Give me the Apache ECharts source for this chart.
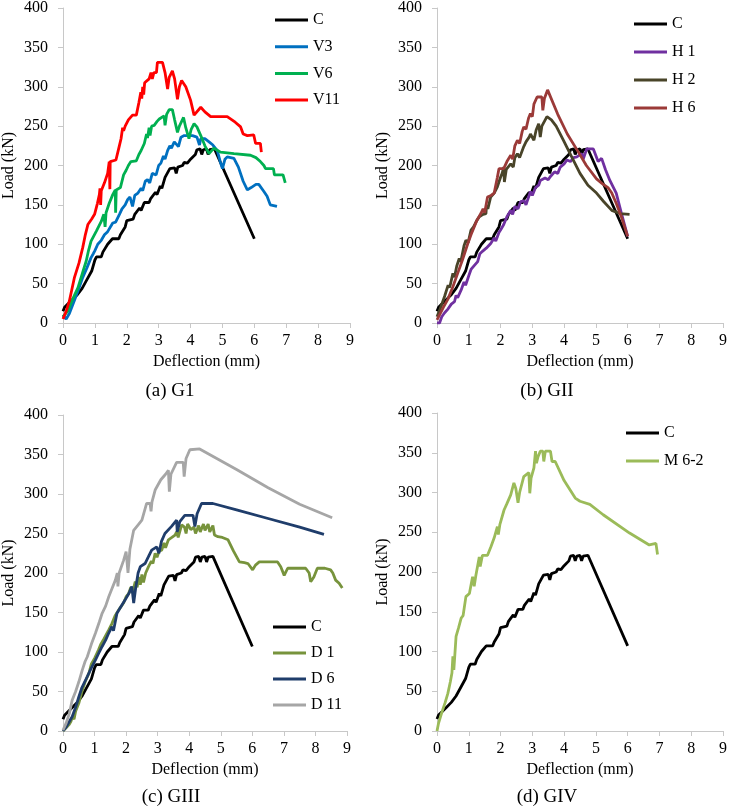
<!DOCTYPE html>
<html>
<head>
<meta charset="utf-8">
<script src="https://cdn.jsdelivr.net/npm/echarts@6/dist/echarts.min.js"></script>
<style>
  html, body { margin: 0; padding: 0; background: #fff; }
  #chart { width: 730px; height: 810px; }
</style>
</head>
<body>
<div id="chart"></div>
<script>
// load-deflection curves, [deflection mm, load kN]
const cData = [[0,15],[0.05,20],[0.1,18],[0.15,24],[0.2,22],[0.3,30],[0.35,28],[0.45,36],[0.5,34],[0.6,44],[0.65,42],[0.75,55],[0.8,53],[0.9,66],[0.95,64],[1.0,80],[1.05,84],[1.2,84],[1.25,90],[1.3,88],[1.4,100],[1.45,98],[1.55,107],[1.75,107],[1.8,112],[1.85,110],[1.95,122],[2.0,130],[2.2,132],[2.25,138],[2.3,136],[2.4,146],[2.45,143],[2.55,153],[2.7,153],[2.75,158],[2.8,156],[2.9,166],[2.95,163],[3.05,174],[3.1,171],[3.2,185],[3.25,183],[3.35,196],[3.5,197],[3.55,190],[3.6,198],[3.75,200],[3.8,204],[3.9,203],[4.0,208],[4.05,206],[4.15,214],[4.2,220],[4.3,221],[4.35,214],[4.4,220],[4.5,221],[4.55,214],[4.6,220],[4.75,221],[6.0,107]];

const v3Data = [[0,10],[0.1,5],[0.2,12],[0.36,29],[0.5,44],[0.62,58],[0.75,70],[0.88,83],[0.95,88],[1.0,92],[1.09,100],[1.15,98],[1.2,105],[1.3,112],[1.4,116],[1.45,114],[1.56,127],[1.65,128],[1.77,138],[1.85,145],[1.95,150],[2.03,157],[2.1,160],[2.18,148],[2.25,162],[2.35,165],[2.45,171],[2.5,168],[2.58,180],[2.65,182],[2.72,178],[2.8,190],[2.86,192],[2.92,188],[3.0,200],[3.07,203],[3.15,212],[3.2,208],[3.28,219],[3.35,225],[3.4,222],[3.49,230],[3.55,232],[3.62,224],[3.7,236],[3.8,238],[4.06,238],[4.2,236],[4.28,226],[4.32,234],[4.45,234],[4.58,230],[4.7,226],[4.84,219],[4.93,205],[5.0,196],[5.08,208],[5.15,211],[5.36,209],[5.5,198],[5.65,180],[5.78,169],[5.9,172],[6.05,176],[6.14,176],[6.3,167],[6.4,161],[6.5,150],[6.55,148],[6.71,148]];

const v6Data = [[0,8],[0.15,15],[0.3,30],[0.47,45],[0.6,62],[0.73,79],[0.8,92],[0.88,104],[1.05,117],[1.2,129],[1.28,138],[1.3,140],[1.32,122],[1.35,140],[1.45,152],[1.56,163],[1.64,169],[1.65,140],[1.67,169],[1.8,172],[1.9,188],[1.98,194],[2.05,200],[2.13,205],[2.3,206],[2.38,214],[2.45,219],[2.55,228],[2.62,240],[2.65,235],[2.7,248],[2.73,238],[2.78,250],[2.86,251],[2.95,256],[3.02,259],[3.17,263],[3.2,251],[3.25,265],[3.33,271],[3.43,271],[3.5,258],[3.59,242],[3.65,250],[3.78,261],[3.85,248],[3.95,234],[4.02,246],[4.11,253],[4.2,249],[4.32,238],[4.45,225],[4.58,215],[4.73,222],[4.94,217],[5.36,215],[5.88,213],[6.05,210],[6.19,205],[6.3,200],[6.35,196],[6.6,196],[6.63,188],[6.9,188],[6.97,178]];

const v11Data = [[0,5],[0.1,15],[0.2,28],[0.36,58],[0.5,76],[0.62,96],[0.7,112],[0.78,125],[0.9,132],[0.99,138],[1.08,152],[1.14,163],[1.16,171],[1.18,150],[1.2,168],[1.3,178],[1.4,190],[1.45,205],[1.47,170],[1.48,205],[1.66,207],[1.75,222],[1.82,234],[1.87,248],[1.9,244],[1.95,250],[1.98,248],[2.05,258],[2.18,264],[2.3,264],[2.38,280],[2.44,293],[2.47,285],[2.5,300],[2.53,290],[2.56,305],[2.6,303],[2.7,310],[2.76,318],[2.8,310],[2.85,318],[2.93,318],[2.96,331],[3.12,331],[3.2,318],[3.28,297],[3.33,312],[3.43,320],[3.5,310],[3.59,284],[3.65,300],[3.72,308],[3.85,300],[4.0,283],[4.11,264],[4.15,262],[4.32,274],[4.45,268],[4.63,262],[5.15,262],[5.4,255],[5.57,249],[5.65,240],[5.78,238],[5.98,239],[6.04,228],[6.19,228],[6.22,217]];

const h1Data = [[0,0],[0.08,0],[0.15,8],[0.24,13],[0.35,18],[0.45,24],[0.55,27],[0.6,35],[0.65,32],[0.76,42],[0.85,52],[0.9,48],[1.0,60],[1.07,68],[1.15,72],[1.2,70],[1.28,78],[1.35,88],[1.43,91],[1.55,95],[1.69,101],[1.8,108],[1.85,104],[1.95,115],[2.0,118],[2.1,125],[2.2,135],[2.32,143],[2.38,138],[2.45,148],[2.55,145],[2.63,154],[2.75,155],[2.8,150],[2.94,167],[3.0,162],[3.1,172],[3.2,175],[3.25,181],[3.4,184],[3.5,182],[3.57,186],[3.7,192],[3.8,190],[3.88,198],[4.0,202],[4.09,207],[4.2,205],[4.3,210],[4.4,211],[4.55,215],[4.6,208],[4.71,221],[4.92,221],[5.07,205],[5.18,209],[5.3,195],[5.44,181],[5.64,165],[5.8,140],[6.0,110]];

const h2Data = [[0,8],[0.1,18],[0.24,34],[0.35,48],[0.4,45],[0.5,63],[0.55,58],[0.62,72],[0.7,82],[0.75,78],[0.85,98],[0.91,105],[0.98,102],[1.07,118],[1.15,122],[1.25,130],[1.33,135],[1.45,138],[1.54,139],[1.56,150],[1.6,145],[1.69,160],[1.8,165],[1.9,173],[2.0,185],[2.05,190],[2.1,198],[2.12,179],[2.18,195],[2.32,202],[2.4,198],[2.45,210],[2.53,215],[2.6,210],[2.73,224],[2.8,230],[2.9,236],[2.94,240],[3.05,232],[3.12,245],[3.2,253],[3.25,236],[3.3,250],[3.46,262],[3.6,258],[3.75,250],[3.98,232],[4.25,210],[4.5,190],[4.75,175],[5.02,165],[5.25,154],[5.5,143],[5.75,139],[6.06,138]];

const h6Data = [[0,4],[0.1,12],[0.2,20],[0.34,30],[0.5,46],[0.65,63],[0.8,80],[0.97,101],[1.07,112],[1.17,122],[1.25,130],[1.38,139],[1.45,145],[1.5,140],[1.59,160],[1.7,162],[1.8,165],[1.9,185],[1.95,196],[2.1,196],[2.2,205],[2.32,213],[2.38,208],[2.45,225],[2.53,232],[2.6,228],[2.68,243],[2.73,249],[2.8,246],[2.88,260],[2.94,266],[3.0,262],[3.05,278],[3.15,287],[3.3,287],[3.33,270],[3.38,285],[3.48,296],[3.8,265],[4.1,240],[4.45,217],[4.7,200],[5.02,183],[5.2,177],[5.38,172],[5.5,165],[5.64,152],[5.8,135],[6.0,110]];

const d1Data = [[0,0],[0.1,4],[0.19,8],[0.25,12],[0.3,18],[0.35,15],[0.4,25],[0.5,35],[0.6,50],[0.7,62],[0.82,73],[0.9,85],[1.0,92],[1.13,103],[1.2,110],[1.3,117],[1.45,128],[1.55,136],[1.65,146],[1.76,153],[1.85,158],[1.92,162],[2.0,170],[2.08,174],[2.15,182],[2.2,175],[2.29,189],[2.35,182],[2.4,195],[2.45,185],[2.5,198],[2.55,188],[2.62,200],[2.71,208],[2.8,215],[2.85,212],[2.92,225],[2.98,220],[3.05,228],[3.13,229],[3.2,238],[3.25,232],[3.34,242],[3.45,245],[3.55,248],[3.6,252],[3.65,245],[3.76,261],[3.85,258],[3.9,250],[3.95,262],[4.05,255],[4.15,258],[4.2,250],[4.3,260],[4.35,252],[4.45,262],[4.5,254],[4.6,262],[4.65,252],[4.75,260],[4.8,248],[4.91,246],[5.05,245],[5.23,242],[5.4,228],[5.59,214],[5.75,213],[5.86,212],[6.01,204],[6.1,210],[6.22,214],[6.8,214],[6.9,208],[7.01,197],[7.12,206],[7.69,206],[7.8,200],[7.85,189],[7.95,195],[8.06,206],[8.3,206],[8.48,204],[8.55,200],[8.64,191],[8.75,187],[8.85,181]];

const d6Data = [[0,0],[0.1,5],[0.2,12],[0.29,18],[0.4,30],[0.5,43],[0.6,55],[0.77,69],[0.9,80],[1.03,90],[1.15,100],[1.24,107],[1.35,115],[1.45,124],[1.55,132],[1.6,127],[1.71,149],[1.8,155],[1.97,166],[2.1,175],[2.18,183],[2.24,162],[2.3,180],[2.38,200],[2.45,208],[2.6,212],[2.7,220],[2.81,229],[2.97,233],[3.04,225],[3.12,240],[3.23,250],[3.44,259],[3.6,267],[3.62,252],[3.7,265],[3.86,273],[4.12,273],[4.18,259],[4.25,275],[4.39,288],[4.75,288],[5.5,280],[6.5,269],[7.5,258],[8.27,249]];

const d11Data = [[0,1],[0.1,10],[0.2,22],[0.29,39],[0.4,50],[0.5,62],[0.61,77],[0.7,88],[0.77,94],[0.9,110],[1.03,124],[1.15,138],[1.24,149],[1.35,158],[1.45,170],[1.55,180],[1.66,191],[1.72,200],[1.74,183],[1.78,200],[1.92,216],[2.0,227],[2.06,200],[2.12,230],[2.24,254],[2.4,262],[2.5,267],[2.65,288],[2.76,288],[2.79,278],[2.82,290],[2.92,305],[3.1,318],[3.25,325],[3.34,330],[3.37,303],[3.42,325],[3.6,340],[3.81,340],[3.84,322],[3.9,345],[4.02,356],[4.33,357],[5.5,331],[6.5,308],[7.5,287],[8.53,270]];

const m62Data = [[0,0],[0.05,10],[0.14,22],[0.25,35],[0.34,47],[0.42,62],[0.47,73],[0.5,94],[0.53,77],[0.6,119],[0.68,130],[0.76,142],[0.82,145],[0.91,169],[1.02,173],[1.12,194],[1.17,182],[1.22,195],[1.33,219],[1.36,207],[1.43,221],[1.59,221],[1.7,232],[1.8,243],[1.9,257],[1.93,247],[1.98,260],[2.11,278],[2.2,286],[2.32,297],[2.42,312],[2.48,305],[2.53,303],[2.55,287],[2.6,300],[2.73,320],[2.89,325],[2.92,299],[2.96,318],[3.05,331],[3.1,352],[3.13,337],[3.18,345],[3.25,352],[3.33,352],[3.36,339],[3.41,352],[3.57,352],[3.62,339],[3.72,339],[4.0,315],[4.35,293],[4.5,289],[4.81,285],[5.23,272],[6.06,249],[6.68,234],[6.89,236],[6.94,222]];

const panelTitles = ['(a) G1', '(b) GII', '(c) GIII', '(d) GIV'];

const FONT = '"Liberation Serif", "Times New Roman", serif';

const grids = [
  { left: 62, top: 5, width: 288, height: 318 },
  { left: 437, top: 7, width: 289, height: 316 },
  { left: 61, top: 415, width: 286, height: 316 },
  { left: 437, top: 413, width: 289, height: 318 }
];

const panels = [
  { series: [['C', cData, '#000000'], ['V3', v3Data, '#0070c0'], ['V6', v6Data, '#00b050'], ['V11', v11Data, '#ff0000']],
    legend: { left: 275, top: 12, itemGap: 10.7 } },
  { series: [['C', cData, '#000000'], ['H 1', h1Data, '#7030a0'], ['H 2', h2Data, '#494429'], ['H 6', h6Data, '#9b3a38']],
    legend: { left: 634, top: 16, itemGap: 12 } },
  { series: [['C', cData, '#000000'], ['D 1', d1Data, '#77933c'], ['D 6', d6Data, '#1f3d6b'], ['D 11', d11Data, '#a6a6a6']],
    legend: { left: 273, top: 619, itemGap: 10 } },
  { series: [['C', cData, '#000000'], ['M 6-2', m62Data, '#9bbb59']],
    legend: { left: 626, top: 425, itemGap: 12 } }
];

const titlePos = [[170, 382], [547, 382], [171, 788], [547, 788]];

const axisLine = { lineStyle: { color: '#c8c8c8', width: 1 } };
const labelStyle = { color: '#000', fontFamily: FONT, fontSize: 16 };

const xAxes = [], yAxes = [], series = [], legends = [], titles = [];

panels.forEach(function (p, i) {
  xAxes.push({
    type: 'value', gridIndex: i, min: 0, max: 9, interval: 1,
    name: 'Deflection (mm)', nameLocation: 'middle', nameGap: 31,
    nameTextStyle: labelStyle,
    axisLine: axisLine,
    axisTick: { show: true, length: 5, lineStyle: { color: '#c8c8c8' } },
    axisLabel: Object.assign({ margin: 10 }, labelStyle),
    splitLine: { show: false }
  });
  yAxes.push({
    type: 'value', gridIndex: i, min: 0, max: 400, interval: 50,
    name: 'Load (kN)', nameLocation: 'middle', nameGap: 46,
    nameTextStyle: labelStyle,
    axisLine: Object.assign({ show: true }, axisLine),
    axisTick: { show: true, length: 5, lineStyle: { color: '#c8c8c8' } },
    axisLabel: Object.assign({ margin: 15 }, labelStyle),
    splitLine: { show: false }
  });
  p.series.forEach(function (s) {
    series.push({
      name: s[0], type: 'line', xAxisIndex: i, yAxisIndex: i,
      data: s[1], showSymbol: false, symbol: 'none',
      lineStyle: { color: s[2], width: 2.8 },
      itemStyle: { color: s[2] }
    });
  });
  legends.push({
    orient: 'vertical', left: p.legend.left, top: p.legend.top,
    itemGap: p.legend.itemGap, padding: 0,
    icon: 'rect', itemWidth: 33, itemHeight: 3,
    selectedMode: false,
    textStyle: { color: '#000', fontFamily: FONT, fontSize: 16, lineHeight: 16 },
    data: p.series.map(function (s) { return s[0]; })
  });
  titles.push({
    text: panelTitles[i], left: titlePos[i][0], top: titlePos[i][1],
    textAlign: 'center', padding: 0,
    textStyle: { color: '#000', fontFamily: FONT, fontSize: 19, fontWeight: 'normal' }
  });
});

const chart = echarts.init(document.getElementById('chart'));
chart.setOption({
  animation: false,
  backgroundColor: '#fff',
  title: titles,
  grid: grids,
  xAxis: xAxes,
  yAxis: yAxes,
  legend: legends,
  series: series
});
</script>
</body>
</html>
